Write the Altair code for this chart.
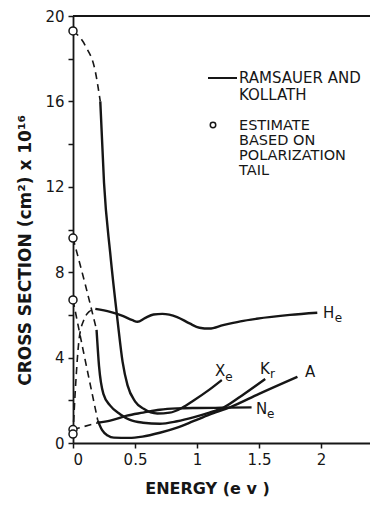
import altair as alt
import pandas as pd

# ---------------- data ----------------
# Xe
xe_dash_x = [0.0, 0.10, 0.18, 0.22]
xe_dash_y = [19.3, 18.6, 17.4, 16.0]
xe_x = [0.22, 0.25, 0.30, 0.36, 0.40, 0.44, 0.50, 0.57, 0.68, 0.78, 0.88, 0.97, 1.10, 1.20]
xe_y = [16.0, 12.2, 8.9, 5.7, 3.8, 2.7, 1.95, 1.6, 1.38, 1.42, 1.65, 1.98, 2.5, 2.95]
# Kr
kr_dash_x = [0.0, 0.10, 0.19]
kr_dash_y = [9.6, 7.4, 5.3]
kr_x = [0.19, 0.21, 0.245, 0.30, 0.38, 0.46, 0.565, 0.70, 0.84, 0.97, 1.10, 1.21, 1.38, 1.55]
kr_y = [5.3, 3.6, 2.3, 1.75, 1.35, 1.08, 0.95, 0.9, 1.02, 1.2, 1.42, 1.65, 2.3, 3.0]
# A
a_dash_x = [0.0, 0.08, 0.20]
a_dash_y = [6.7, 4.4, 1.05]
a_x = [0.20, 0.235, 0.28, 0.33, 0.45, 0.56, 0.70, 0.84, 0.97, 1.10, 1.27, 1.50, 1.81]
a_y = [1.05, 0.6, 0.35, 0.25, 0.24, 0.3, 0.48, 0.72, 1.02, 1.33, 1.68, 2.3, 3.1]
# He
he_dash_x = [0.0, 0.02, 0.05, 0.09, 0.13, 0.18]
he_dash_y = [0.42, 2.6, 4.9, 5.8, 6.15, 6.28]
he_x = [0.18, 0.30, 0.40, 0.48, 0.52, 0.58, 0.65, 0.72, 0.84, 0.94, 1.02, 1.10, 1.21, 1.35, 1.48, 1.75, 1.97]
he_y = [6.28, 6.14, 5.95, 5.75, 5.68, 5.85, 6.02, 6.05, 5.9, 5.6, 5.4, 5.36, 5.52, 5.7, 5.82, 6.0, 6.1]
# Ne
ne_dash_x = [0.0, 0.20]
ne_dash_y = [0.63, 0.95]
ne_x = [0.20, 0.30, 0.435, 0.565, 0.70, 0.84, 1.0, 1.2, 1.44]
ne_y = [0.95, 1.05, 1.28, 1.42, 1.56, 1.62, 1.64, 1.65, 1.67]

# estimates at zero energy (circles)
est_series = ["Xe", "Kr", "A", "Ne", "He"]
est_y = [19.3, 9.6, 6.7, 0.63, 0.42]

# curve labels (main letter + subscript)
lab_text = ["H", "X", "K", "A", "N"]
lab_x = [2.016, 1.145, 1.508, 1.871, 1.476]
lab_y = [6.10, 3.37, 3.46, 3.32, 1.58]
sub_text = ["e", "e", "r", "e"]
sub_x = [2.11, 1.228, 1.589, 1.565]
sub_y = [5.87, 3.09, 3.23, 1.375]

x_ticks = [0, 0.5, 1, 1.5, 2]
y_ticks = list(range(0, 21, 2))

legend_solid = ["RAMSAUER AND", "KOLLATH"]
legend_circle = ["ESTIMATE", "BASED ON", "POLARIZATION", "TAIL"]

# ---------------- build tables ----------------
def frame(name, xs, ys):
    return pd.DataFrame({"series": name, "x": xs, "y": ys, "order": list(range(len(xs)))})

solid_df = pd.concat([
    frame("Xe", xe_x, xe_y), frame("Kr", kr_x, kr_y), frame("A", a_x, a_y),
    frame("He", he_x, he_y), frame("Ne", ne_x, ne_y)], ignore_index=True)
dash_df = pd.concat([
    frame("Xe", xe_dash_x, xe_dash_y), frame("Kr", kr_dash_x, kr_dash_y),
    frame("A", a_dash_x, a_dash_y), frame("He", he_dash_x, he_dash_y),
    frame("Ne", ne_dash_x, ne_dash_y)], ignore_index=True)
est_df = pd.DataFrame({"series": est_series, "x": [0.0] * len(est_y), "y": est_y})
lab_df = pd.DataFrame({"t": lab_text, "x": lab_x, "y": lab_y})
sub_df = pd.DataFrame({"t": sub_text, "x": sub_x, "y": sub_y})
one = pd.DataFrame({"k": [0]})

INK = "#161616"
FONT = "DejaVu Sans"
W, H = 297, 427

xscale = alt.Scale(domain=[0, 2.395], nice=False, zero=False)
yscale = alt.Scale(domain=[0, 20], nice=False)

xaxis = alt.Axis(
    values=x_ticks, format="~g", grid=False, tickSize=5, tickWidth=1.5,
    domainWidth=1.8, domainColor=INK, tickColor=INK, labelColor=INK,
    labelFont=FONT, labelFontSize=15, labelPadding=4,
    title="ENERGY (e v )", titleFont=FONT, titleFontSize=16, titleFontWeight="bold",
    titleColor=INK, titleX=134, titleY=50, titleAlign="center", titleBaseline="alphabetic",
)
yaxis = alt.Axis(
    values=y_ticks, labelExpr="datum.value % 4 === 0 ? datum.label : ''",
    grid=False, tickSize=5, tickWidth=1.5, domainWidth=1.8, domainColor=INK,
    tickColor=INK, labelColor=INK, labelFont=FONT, labelFontSize=15, labelPadding=4,
    title="CROSS SECTION (cm²) x 10¹⁶", titleFont=FONT, titleFontSize=17,
    titleFontWeight="bold", titleColor=INK, titleX=-48, titleY=234,
    titleAngle=270, titleAlign="center", titleBaseline="middle",
)

X = alt.X("x:Q", scale=xscale, axis=xaxis)
Y = alt.Y("y:Q", scale=yscale, axis=yaxis)

solid = alt.Chart(solid_df).mark_line(
    color=INK, strokeWidth=2.4, interpolate="monotone"
).encode(x=X, y=Y, detail="series:N", order="order:Q")

dashed = alt.Chart(dash_df).mark_line(
    color=INK, strokeWidth=1.6, strokeDash=[7, 5], interpolate="monotone"
).encode(x="x:Q", y="y:Q", detail="series:N", order="order:Q")

circles = alt.Chart(est_df).mark_point(
    shape="circle", filled=True, fill="white", stroke=INK, strokeWidth=1.5,
    size=64, opacity=1
).encode(x="x:Q", y="y:Q")

top_line = alt.Chart(one).mark_rule(color=INK, strokeWidth=1.8).encode(
    x=alt.value(0), x2=alt.value(W), y=alt.value(0)
)

labels = alt.Chart(lab_df).mark_text(
    align="left", baseline="middle", font=FONT, fontSize=15, color=INK
).encode(x="x:Q", y="y:Q", text="t:N")
subs = alt.Chart(sub_df).mark_text(
    align="left", baseline="middle", font=FONT, fontSize=12, color=INK
).encode(x="x:Q", y="y:Q", text="t:N")

leg_line = alt.Chart(one).mark_rule(color=INK, strokeWidth=2).encode(
    x=alt.value(135), x2=alt.value(164), y=alt.value(62)
)
leg_pt = alt.Chart(one).mark_point(
    shape="circle", filled=True, fill="white", stroke=INK, strokeWidth=1.5, size=30, opacity=1
).encode(x=alt.value(140), y=alt.value(109))


def legend_lines(lines, y0, step, size):
    out = []
    for i, t in enumerate(lines):
        out.append(alt.Chart(one).mark_text(
            align="left", baseline="alphabetic", font=FONT, fontSize=size, color=INK
        ).encode(x=alt.value(166), y=alt.value(y0 + i * step), text=alt.value(t)))
    return out


leg_texts = legend_lines(legend_solid, 67, 16.5, 15) + legend_lines(legend_circle, 114, 15, 14.5)

chart = alt.layer(
    top_line, dashed, solid, circles, labels, subs, leg_line, leg_pt, *leg_texts
).properties(
    width=W, height=H,
    autosize=alt.AutoSizeParams(type="none"),
    padding={"left": 65, "top": 8, "right": 0, "bottom": 54},
    background="white",
).configure_view(strokeOpacity=0)

chart.save("out.html", embed_options={"renderer": "svg", "actions": False})
